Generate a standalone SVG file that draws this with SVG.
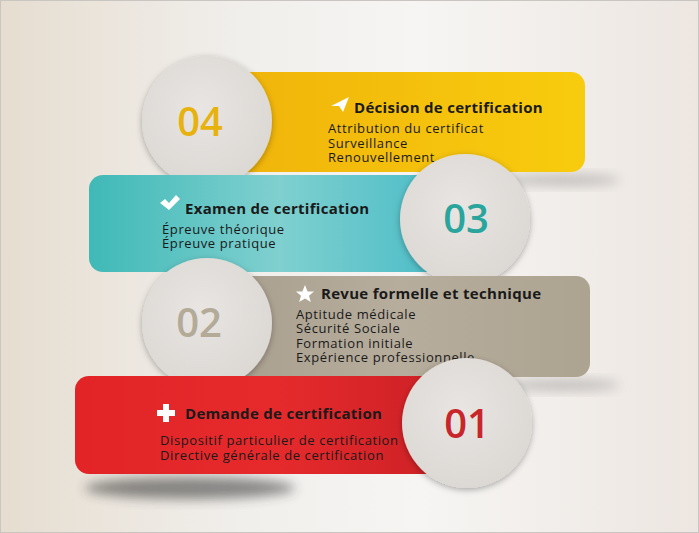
<svg xmlns="http://www.w3.org/2000/svg" width="699" height="533" viewBox="0 0 699 533">
<defs>
<linearGradient id="bg" x1="0" y1="0" x2="1" y2="0">
<stop offset="0" stop-color="#e6ddd0"/><stop offset="0.35" stop-color="#f1efec"/><stop offset="0.6" stop-color="#f6f5f3"/><stop offset="1" stop-color="#ede6e1"/>
</linearGradient>
<linearGradient id="gY" x1="0" y1="0" x2="1" y2="0"><stop offset="0" stop-color="#f0b20a"/><stop offset="1" stop-color="#f8cc0e"/></linearGradient>
<linearGradient id="gT" x1="0" y1="0" x2="1" y2="0"><stop offset="0" stop-color="#3fb9b7"/><stop offset="0.5" stop-color="#7fd0cf"/><stop offset="1" stop-color="#43b9c6"/></linearGradient>
<linearGradient id="gB" x1="0" y1="0" x2="1" y2="0"><stop offset="0" stop-color="#a89e8e"/><stop offset="0.5" stop-color="#b7ad9c"/><stop offset="1" stop-color="#ada391"/></linearGradient>
<linearGradient id="gR" x1="0" y1="0" x2="1" y2="0"><stop offset="0" stop-color="#e22427"/><stop offset="0.5" stop-color="#e62a2c"/><stop offset="1" stop-color="#c81f25"/></linearGradient>
<radialGradient id="gC" cx="0.45" cy="0.4" r="0.6"><stop offset="0" stop-color="#e8e5e2"/><stop offset="1" stop-color="#dcd8d4"/></radialGradient>
<filter id="blur" x="-50%" y="-50%" width="200%" height="200%"><feGaussianBlur stdDeviation="6"/></filter>
<filter id="cs" x="-30%" y="-30%" width="160%" height="160%"><feDropShadow dx="0" dy="2" stdDeviation="3" flood-color="#000" flood-opacity="0.3"/></filter>
</defs>
<style>
.t{font-family:"Open Sans","DejaVu Sans",sans-serif;font-weight:bold;font-size:15px;letter-spacing:0.3px;fill:#1a1a1a}
.i{font-family:"Open Sans","DejaVu Sans",sans-serif;font-size:13px;letter-spacing:0.6px;fill:#1a1a1a}
.n{font-family:"Open Sans","DejaVu Sans",sans-serif;font-size:40px;font-weight:600;text-anchor:middle}
.c{fill:url(#gC);filter:url(#cs)}
</style>
<rect x="0" y="0" width="699" height="533" fill="url(#bg)"/>
<rect x="0.5" y="0.5" width="698" height="532" fill="none" stroke="#c9c6c2" stroke-width="1"/>
<ellipse cx="190" cy="488" rx="105" ry="11" fill="#333" opacity="0.55" filter="url(#blur)"/>
<ellipse cx="560" cy="385" rx="60" ry="6" fill="#555" opacity="0.3" filter="url(#blur)"/>
<ellipse cx="560" cy="180" rx="60" ry="6" fill="#555" opacity="0.3" filter="url(#blur)"/>

<g id="step04">
<rect x="205" y="72" width="380" height="100" rx="14" fill="url(#gY)"/>
<circle class="c" cx="207" cy="121" r="65"/>
<text class="n" x="200" y="136" fill="#e8b20e">04</text>
<path d="M331 106 L349 97 L343 112 L339 106 Z" fill="#fff"/>
<text class="t" x="354" y="113">Décision de certification</text>
<text class="i" x="328" y="133">Attribution du certificat</text>
<text class="i" x="328" y="148">Surveillance</text>
<text class="i" x="328" y="162">Renouvellement</text>
</g>

<g id="step03">
<rect x="89" y="175" width="380" height="97" rx="14" fill="url(#gT)"/>
<circle class="c" cx="465" cy="219" r="65"/>
<text class="n" x="466" y="233" fill="#2aa59e">03</text>
<path d="M160 203 L165 199 L169 203 L176 195 L180 199 L169 210 Z" fill="#fff"/>
<text class="t" x="185" y="214">Examen de certification</text>
<text class="i" x="162" y="234">Épreuve théorique</text>
<text class="i" x="162" y="248">Épreuve pratique</text>
</g>

<g id="step02">
<rect x="210" y="276" width="380" height="101" rx="14" fill="url(#gB)"/>
<circle class="c" cx="207" cy="323" r="65"/>
<text class="n" x="199" y="337" fill="#b3aa98">02</text>
<path d="M305 285 L307.6 291.4 L314 291.6 L309 295.8 L310.8 302 L305 298.4 L299.2 302 L301 295.8 L296 291.6 L302.4 291.4 Z" fill="#fff"/>
<text class="t" x="321" y="299">Revue formelle et technique</text>
<text class="i" x="296" y="319">Aptitude médicale</text>
<text class="i" x="296" y="333">Sécurité Sociale</text>
<text class="i" x="296" y="348">Formation initiale</text>
<text class="i" x="296" y="362">Expérience professionnelle</text>
</g>

<g id="step01">
<rect x="75" y="376" width="400" height="98" rx="14" fill="url(#gR)"/>
<circle class="c" cx="467" cy="423" r="65"/>
<text class="n" x="467" y="438" fill="#c8262b">01</text>
<path d="M163 404 H169 V410 H175 V416 H169 V422 H163 V416 H157 V410 H163 Z" fill="#fff"/>
<text class="t" x="185" y="419">Demande de certification</text>
<text class="i" x="160" y="445">Dispositif particulier de certification</text>
<text class="i" x="160" y="460">Directive générale de certification</text>
</g>
<g id="connectors"/>
</svg>
